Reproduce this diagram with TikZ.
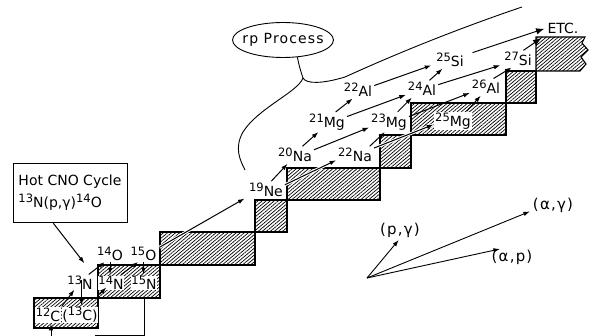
\documentclass[tikz,border=0pt]{standalone}
\usepackage{fontspec}
\setmainfont{DejaVu Sans}
\newfontfamily\widefont[LetterSpace=8]{DejaVu Sans}
\usetikzlibrary{positioning, arrows.meta, shapes.geometric, patterns.meta}
\newcommand{\nuc}[2]{\raisebox{5pt}{\fontsize{11.5}{12}\selectfont #1}#2}
\tikzset{
  nuclide/.style={
    inner sep=1pt,
    font=\fontsize{14}{16}\selectfont
  },
  inblock/.style={
    nuclide,
    fill=white,
    inner sep=0.8pt
  },
  legendlabel/.style={
    inner sep=1pt,
    font=\widefont\fontsize{15}{17}\selectfont
  },
  stepblock/.style={
    draw=black,
    line width=1.1pt,
    pattern={Lines[angle=40,distance=2.6pt,line width=0.7pt]}
  },
  cnobox/.style={
    rectangle,
    draw,
    line width=0.9pt,
    minimum width=114pt,
    minimum height=59pt,
    align=left,
    font=\fontsize{14}{22}\selectfont,
    inner sep=4pt
  },
  rparrow/.style={
    -{Latex[length=6.5pt,width=4.5pt]},
    line width=1pt,
    shorten >=1pt,
    shorten <=1pt
  },
  haloarrow/.style={
    rparrow,
    preaction={draw=white, line width=3pt, -}
  },
  bigarrow/.style={
    rparrow,
    -{Latex[length=8.5pt,width=6.5pt]}
  },
  legendarrow/.style={
    -{Latex[length=6.5pt,width=4.5pt]},
    line width=0.9pt,
    shorten >=2pt
  },
  returnline/.style={
    line width=0.6pt
  },
  bracketline/.style={
    line width=0.9pt
  }
}
\begin{document}
\begin{tikzpicture}[x=1pt,y=-1pt]
  \useasboundingbox (0,0) rectangle (595,336);
  \draw[stepblock] (34,298) rectangle (98,328);
  \draw[stepblock] (98,265) rectangle (160,298);
  \draw[stepblock] (160,232) rectangle (255,265);
  \draw[stepblock] (255,200) rectangle (287,232);
  \draw[stepblock] (287,168) rectangle (380,200);
  \draw[stepblock] (380,135) rectangle (411,168);
  \draw[stepblock] (411,103) rectangle (506,135);
  \draw[stepblock] (506,71) rectangle (536,103);
  \draw[stepblock] (536,71) -- (536,37) -- (585,37) -- (582,43) -- (588,50) -- (581,57) -- (586,64) -- (580,71) -- cycle;

  \node[cnobox] (cno) at (70,192.5) {Hot CNO Cycle\\\nuc{13}N(p,γ)\nuc{14}O};
  \node[draw, ellipse, line width=0.9pt, minimum width=101pt, minimum height=35pt, inner sep=0pt,
        font=\widefont\fontsize{14}{16}\selectfont] (rp) at (283,40) {\makebox[0pt]{rp Process}};

  \node[inblock] (c12) at (48,315) {\nuc{12}C};
  \node[inblock] (c13) at (80,315) {(\nuc{13}C)};
  \node[nuclide] (n13) at (80,283) {\nuc{13}N};
  \node[inblock] (n14) at (111,283) {\nuc{14}N};
  \node[inblock] (n15) at (144,283) {\nuc{15}N};
  \node[nuclide] (o14) at (110,253.5) {\nuc{14}O};
  \node[nuclide] (o15) at (143.5,253.5) {\nuc{15}O};
  \node[nuclide] (ne19) at (266,190) {\nuc{19}Ne};
  \node[nuclide] (na20) at (295,155) {\nuc{20}Na};
  \node[nuclide] (na22) at (355,155) {\nuc{22}Na};
  \node[nuclide] (mg21) at (327,122) {\nuc{21}Mg};
  \node[nuclide] (mg23) at (389,122) {\nuc{23}Mg};
  \node[inblock] (mg25) at (453,121) {\nuc{25}Mg};
  \node[nuclide] (al22) at (358,90) {\nuc{22}Al};
  \node[nuclide] (al24) at (422,89) {\nuc{24}Al};
  \node[nuclide] (al26) at (486,87) {\nuc{26}Al};
  \node[nuclide] (si25) at (450,60) {\nuc{25}Si};
  \node[nuclide] (si27) at (518,59) {\nuc{27}Si};
  \node[nuclide] (etc) at (563,28) {ETC.};

  \coordinate (retin) at (51,337);
  \coordinate (retend) at (95,335);
  \draw[returnline, shorten <=8pt] (n15.south) |- (retend);
  \draw[rparrow] (retin) -- (retin |- c12.south);
  \draw[rparrow] (c12.north east) -- ([xshift=-5pt,yshift=2pt]n13.south);
  \draw[rparrow] ([xshift=1.5pt,yshift=4pt]n13.center) -- ([xshift=1.5pt]n13.center |- c13.north);
  \draw[rparrow] ([yshift=11pt]c13.north east) -- ([xshift=-4pt,yshift=4pt]n14.south);
  \draw[rparrow] (n13.45) -- (o14.-120);
  \draw[rparrow] (o14.south) -- (o14.south |- n14.north);
  \draw[rparrow] (n14.40) -- (o15.-120);
  \draw[rparrow] (o15.south) -- (o15.south |- n15.north);
  \draw[rparrow] (cno.-120) -- ([xshift=5pt,yshift=11pt]n13.north);
  \draw[haloarrow, shorten <=2pt, shorten >=4pt] (o15.20) -- (ne19.-160);
  \draw[rparrow] (ne19.60) -- (na20.-130);
  \draw[haloarrow] (ne19.15) -- (na22.-165);
  \draw[rparrow] (na20.50) -- (mg21.-130);
  \draw[rparrow] (na20.15) -- (mg23.-165);
  \draw[rparrow] (na22.30) -- (mg23.-110);
  \draw[haloarrow] (na22.20) -- (mg25.-170);
  \draw[rparrow] (mg21.50) -- (al22.-120);
  \draw[rparrow] (mg21.15) -- (al24.-160);
  \draw[rparrow, shorten >=4pt] (al22.15) -- (si25.-165);
  \draw[rparrow] (mg23.50) -- (al24.-140);
  \draw[rparrow] (mg23.15) -- (al26.-160);
  \draw[rparrow] (al24.50) -- (si25.-130);
  \draw[rparrow, shorten >=3pt] (al24.15) -- (si27.-160);
  \draw[rparrow] (mg25.35) -- (al26.-120);
  \draw[rparrow] (al26.50) -- (si27.-125);
  \draw[bigarrow, shorten <=8pt, shorten >=2pt] (si25.18) -- (etc.west);
  \draw[bigarrow, shorten >=6pt] (si27.60) -- (etc.south west);

  \coordinate (rpfork) at (303,78);
  \coordinate (rpleft) at (245,170);
  \coordinate (rpright) at (522,7);
  \draw[bracketline] (rp.-50) .. controls (299,66) and (301,72) .. (rpfork);
  \draw[bracketline] (rpfork) .. controls (298,92) and (258,108) .. (243,132) .. controls (234,148) and (240,160) .. (rpleft);
  \draw[bracketline] (rpfork) .. controls (306,84) and (322,84) .. (345,77) .. controls (400,52) and (460,28) .. (rpright);

  \coordinate (legorg) at (367,278);
  \node[legendlabel] (pg) at (400,230) {(p,γ)};
  \node[legendlabel] (ag) at (553,205) {(α,γ)};
  \node[legendlabel] (ap) at (512,257) {(α,p)};
  \draw[legendarrow] (legorg) -- (pg.south);
  \draw[legendarrow] (legorg) -- (ag.-165);
  \draw[legendarrow] (legorg) -- (ap.140);
\end{tikzpicture}
\end{document}
